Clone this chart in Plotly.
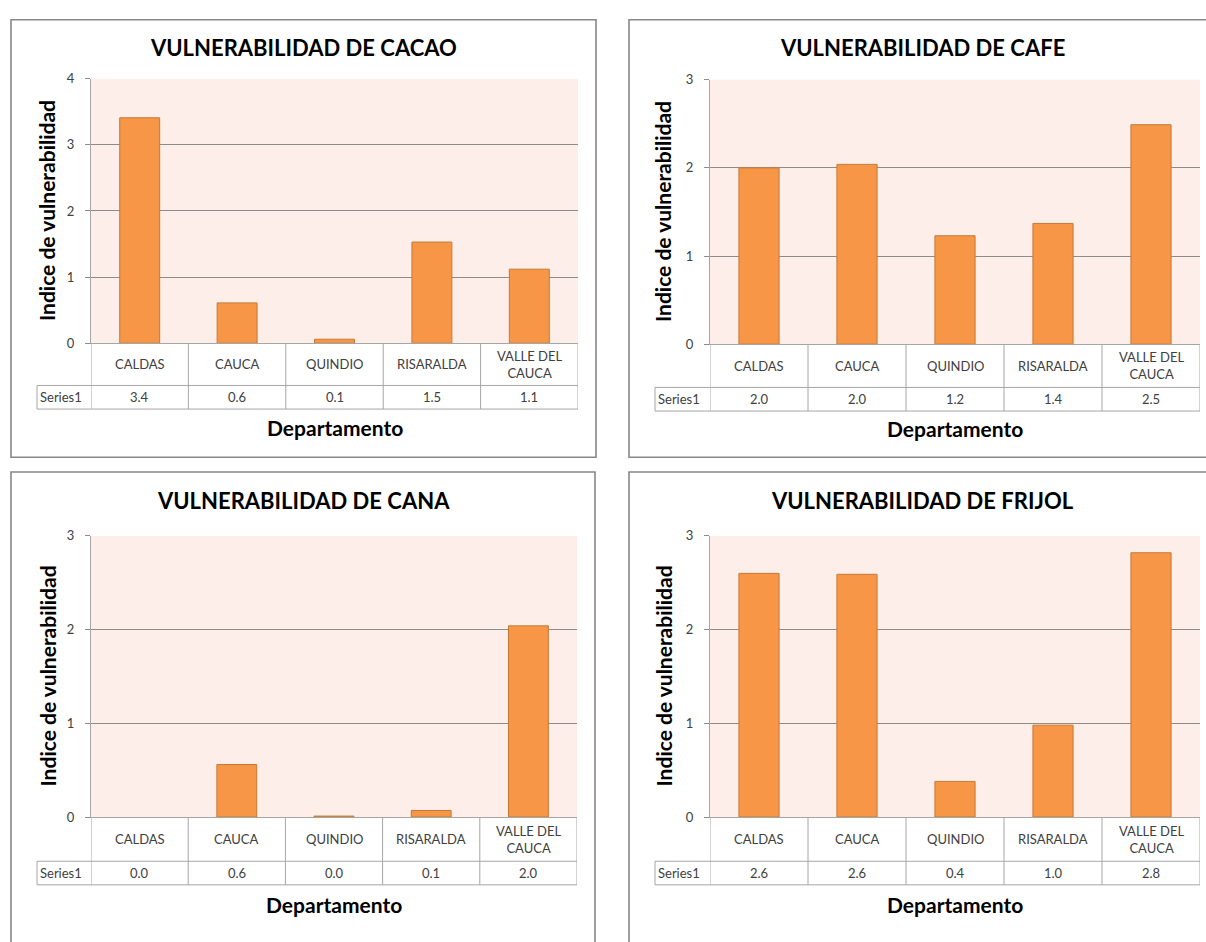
import plotly.graph_objects as go

# ---------------- data ----------------
categories = ["CALDAS", "CAUCA", "QUINDIO", "RISARALDA", "VALLE DEL CAUCA"]
category_labels = ["CALDAS", "CAUCA", "QUINDIO", "RISARALDA", "VALLE DEL<br>CAUCA"]
series_name = "Series1"

cacao = [3.41, 0.61, 0.06, 1.53, 1.12]
cafe = [2.00, 2.04, 1.23, 1.37, 2.49]
cana = [0.00, 0.56, 0.01, 0.07, 2.04]
frijol = [2.60, 2.59, 0.38, 0.98, 2.82]

titles = ["VULNERABILIDAD DE CACAO", "VULNERABILIDAD DE CAFE",
          "VULNERABILIDAD DE CANA", "VULNERABILIDAD DE FRIJOL"]
y_max = [4, 3, 3, 3]
y_title = "Indice de vulnerabilidad"
x_title = "Departamento"
series_values = [cacao, cafe, cana, frijol]

# ---------------- layout geometry (pixels) ----------------
W, H = 1206, 942
def px(x):
    return x / W
def py(y):
    return 1 - y / H

panels = [
    dict(border=(11, 12, 596, 457), plot=(91, 72, 578, 341), cat_bot=384, ser_bot=408,
         ser_left=37, title_y=40, xt_y=427, yt_x=47),
    dict(border=(629, 12, 1216, 457), plot=(710, 73, 1200, 342), cat_bot=386, ser_bot=410,
         ser_left=655, title_y=40, xt_y=428, yt_x=663),
    dict(border=(11, 472, 595, 960), plot=(91, 537, 577, 823), cat_bot=868, ser_bot=892,
         ser_left=37, title_y=501, xt_y=912, yt_x=47),
    dict(border=(629, 472, 1216, 960), plot=(710, 537, 1200, 823), cat_bot=868, ser_bot=892,
         ser_left=655, title_y=501, xt_y=912, yt_x=663),
]

FONT = "Lato"
BAR = "#F79646"
BAR_LINE = "#C47A36"
GRID = "#8C8C8C"
TABLE = "#A6A6A6"
BORDER = "#888888"
TXT = "#404040"

fig = go.Figure()
shapes = []
annotations = []
layout_axes = {}

for i, p in enumerate(panels):
    n = "" if i == 0 else str(i + 1)
    xa, ya = "x" + n, "y" + n
    vals = series_values[i]
    fig.add_trace(go.Bar(
        x=categories, y=vals, xaxis=xa, yaxis=ya, width=0.41,
        marker=dict(color=BAR, line=dict(color=BAR_LINE,
                                         width=[1 if v > 0 else 0 for v in vals])),
        showlegend=False, hoverinfo="x+y"))

    l, t, r, b = p["plot"]
    layout_axes["xaxis" + n] = dict(
        domain=[px(l), px(r)], anchor=ya, type="category",
        categoryorder="array", categoryarray=categories,
        range=[-0.5, 4.5], showticklabels=False, ticks="",
        showline=True, linecolor=TABLE, linewidth=1, showgrid=False,
        zeroline=False, fixedrange=True)
    layout_axes["yaxis" + n] = dict(
        domain=[py(b), py(t)], anchor=xa, range=[0, y_max[i]], dtick=1,
        showline=True, linecolor=TABLE, linewidth=1,
        ticks="outside", ticklen=5, tickcolor=GRID,
        showgrid=True, gridcolor=GRID, gridwidth=1, zeroline=False,
        tickfont=dict(family=FONT, size=13, color=TXT), ticklabelstandoff=8,
        fixedrange=True)

    # outer border of the chart
    bl, bt, br, bb = p["border"]
    shapes.append(dict(type="rect", xref="paper", yref="paper",
                       x0=px(bl), x1=px(br), y0=py(bb), y1=py(bt),
                       line=dict(color=BORDER, width=1.6), layer="below"))

    # data table lines
    cat_bot, ser_bot, sl = p["cat_bot"], p["ser_bot"], p["ser_left"]
    for k in range(len(categories) + 1):
        shapes.append(dict(type="line", xref=xa, yref="paper",
                           x0=k - 0.5, x1=k - 0.5, y0=py(b), y1=py(ser_bot),
                           line=dict(color=TABLE, width=1)))
    shapes.append(dict(type="line", xref="paper", yref="paper",
                       x0=px(sl), x1=px(r), y0=py(cat_bot), y1=py(cat_bot),
                       line=dict(color=TABLE, width=1)))
    shapes.append(dict(type="line", xref="paper", yref="paper",
                       x0=px(sl), x1=px(r), y0=py(ser_bot), y1=py(ser_bot),
                       line=dict(color=TABLE, width=1)))
    shapes.append(dict(type="line", xref="paper", yref="paper",
                       x0=px(sl), x1=px(sl), y0=py(cat_bot), y1=py(ser_bot),
                       line=dict(color=TABLE, width=1)))

    # table text
    for k, c in enumerate(categories):
        annotations.append(dict(x=c, xref=xa, y=py((b + cat_bot) / 2), yref="paper",
                                text=category_labels[k], showarrow=False,
                                font=dict(family=FONT, size=13, color=TXT),
                                xanchor="center", yanchor="middle"))
        annotations.append(dict(x=c, xref=xa, y=py((cat_bot + ser_bot) / 2), yref="paper",
                                text=f"{vals[k]:.1f}", showarrow=False,
                                font=dict(family=FONT, size=13, color=TXT),
                                xanchor="center", yanchor="middle"))
    annotations.append(dict(x=px(sl + 1), xref="paper", y=py((cat_bot + ser_bot) / 2),
                            yref="paper", text=series_name, showarrow=False,
                            font=dict(family=FONT, size=13, color=TXT),
                            xanchor="left", yanchor="middle"))

    # titles
    annotations.append(dict(x=px((bl + br) / 2), xref="paper",
                            y=py(p["title_y"]), yref="paper", text="<b>" + titles[i] + "</b>",
                            showarrow=False, font=dict(family=FONT, size=22, color="#000000"),
                            xanchor="center", yanchor="middle"))
    annotations.append(dict(x=px((l + r) / 2), xref="paper", y=py(p["xt_y"]), yref="paper",
                            text="<b>" + x_title + "</b>", showarrow=False,
                            font=dict(family=FONT, size=21, color="#000000"),
                            xanchor="center", yanchor="middle"))
    annotations.append(dict(x=px(p["yt_x"]), xref="paper", y=py((t + b) / 2), yref="paper",
                            text="<b>" + y_title + "</b>", showarrow=False, textangle=-90,
                            font=dict(family=FONT, size=21, color="#000000"),
                            xanchor="center", yanchor="middle"))

fig.update_layout(
    width=W, height=H, margin=dict(l=0, r=0, t=0, b=0),
    paper_bgcolor="#FFFFFF", plot_bgcolor="#FDEEEA",
    shapes=shapes, annotations=annotations, showlegend=False,
    bargap=0.59, **layout_axes)

post = (
    "document.documentElement.style.margin='0';"
    "document.documentElement.style.overflow='hidden';"
    "document.body.style.margin='0';document.body.style.overflow='hidden';"
    "var g=document.getElementById('{plot_id}');"
    "g.style.position='fixed';g.style.top='0px';g.style.left='0px';"
)
fig.write_html("out.html", config={"displayModeBar": False}, post_script=post)
